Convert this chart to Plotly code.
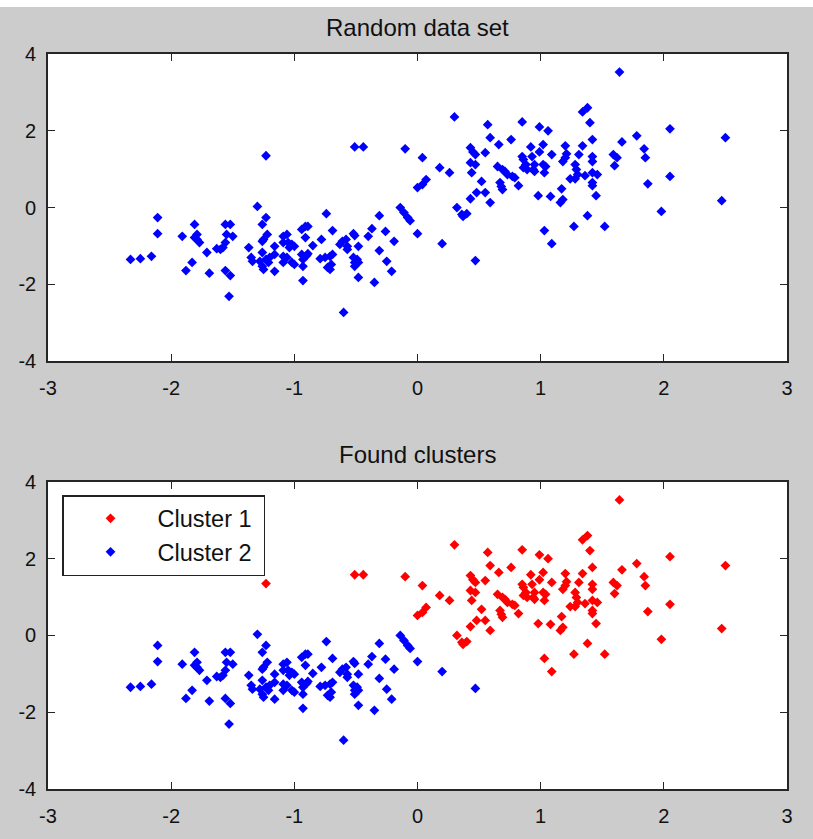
import plotly.graph_objects as go

# ---------------- data ----------------
cluster1_x = [-1.23, -0.51, -0.44, -0.10, 0.04, 0.07, 0.04, 0.00,
              0.30, 0.57, 0.85, 0.99, 1.06, 0.59, 0.66, 0.76, 0.43, 0.45, 0.47, 0.55,
              0.92, 1.02, 0.99, 1.09, 0.85, 0.86, 0.88, 0.86, 0.89, 0.93, 1.02, 1.04,
              1.03, 0.95, 0.94, 0.95, 0.43, 0.47, 0.44, 0.18, 0.26, 0.65, 0.69, 0.71,
              0.73, 0.77, 0.79, 0.52, 0.67, 0.68, 0.69, 0.82, 0.48, 0.55, 0.43, 0.59,
              0.98, 1.08, 0.32, 0.36, 0.40, 0.37, 1.03, 1.09,
              1.20, 1.21, 1.20, 1.18, 1.31, 1.28, 1.29, 1.24, 1.28, 1.30, 1.17, 1.18,
              1.16, 1.27, 1.64, 1.34, 1.38, 1.40, 1.42, 1.34, 1.42, 1.42, 1.36, 1.42,
              1.46, 1.42, 1.42, 1.45, 1.38, 1.52, 1.66, 1.59, 1.62, 1.60, 1.78, 1.84,
              1.85, 1.87, 2.05, 2.05, 1.98, 2.50, 2.47]
cluster1_y = [1.35, 1.58, 1.58, 1.53, 1.30, 0.73, 0.60, 0.52,
              2.36, 2.16, 2.23, 2.10, 2.00, 1.82, 1.64, 1.77, 1.56, 1.45, 1.38, 1.43,
              1.58, 1.64, 1.45, 1.38, 1.33, 1.25, 1.12, 1.04, 0.99, 1.33, 1.12, 1.07,
              0.91, 1.12, 0.99, 0.94, 1.17, 1.12, 0.91, 1.04, 0.91, 1.07, 0.99, 0.94,
              0.86, 0.81, 0.78, 0.68, 0.65, 0.55, 0.47, 0.57, 0.39, 0.39, 0.23, 0.13,
              0.31, 0.29, 0.00, -0.18, -0.16, -0.23, -0.60, -0.94,
              1.61, 1.40, 1.30, 1.20, 1.38, 1.12, 0.99, 0.75, 0.75, 0.86, 0.49, 0.21,
              0.13, -0.49, 3.53, 2.49, 2.60, 2.21, 1.77, 1.61, 1.33, 1.20, 0.83, 0.91,
              0.86, 0.65, 0.57, 0.31, -0.21, -0.49, 1.71, 1.38, 1.30, 1.09, 1.87, 1.53,
              1.30, 0.62, 2.05, 0.81, -0.10, 1.82, 0.18]

cluster2_x = [-2.33, -2.25, -2.16, -2.11, -2.11, -1.91, -1.81, -1.81, -1.79, -1.77,
              -1.79, -1.71, -1.83, -1.88, -1.69, -1.56, -1.52, -1.55, -1.50, -1.56,
              -1.58, -1.63, -1.60, -1.56, -1.52, -1.53, -1.30, -1.23, -1.26, -1.22,
              -1.25, -1.26, -1.37, -1.26, -1.35, -1.34, -1.28, -1.23, -1.21, -1.20,
              -1.26, -1.25, -1.16, -1.16, -1.16,
              -0.74, -0.31, -0.37, -0.26, -0.40, -0.19, -0.69, -0.52, -0.51, -0.61,
              -0.58, -0.63, -0.57, -0.48, -0.78, -0.85, -0.91, -0.94, -0.91, -0.89,
              -1.09, -1.06, -1.09, -1.05, -1.02, -1.00, -1.04, -1.09, -1.06, -1.02,
              -1.00, -1.09, -0.94, -0.90, -0.89, -0.93, -0.93, -0.93, -0.79, -0.75,
              -0.71, -0.69, -0.70, -0.73, -0.71, -0.52, -0.49, -0.51, -0.48, -0.51,
              -0.57, -0.48, -0.31, -0.35, -0.25, -0.21, -0.60,
              -0.14, -0.11, -0.08, -0.06, 0.00, 0.20, 0.47]
cluster2_y = [-1.35, -1.33, -1.27, -0.26, -0.68, -0.75, -0.44, -0.78, -0.83, -0.91,
              -0.70, -1.17, -1.43, -1.64, -1.71, -0.44, -0.44, -0.70, -0.75, -0.91,
              -1.04, -1.07, -1.09, -1.64, -1.77, -2.31, 0.03, -0.26, -0.44, -0.70,
              -0.83, -0.88, -1.04, -1.17, -1.30, -1.40, -1.40, -1.35, -1.43, -1.30,
              -1.53, -1.61, -1.01, -1.22, -1.66,
              -0.16, -0.21, -0.55, -0.62, -0.75, -0.88, -0.60, -0.68, -0.73, -0.88,
              -0.83, -0.96, -1.01, -1.01, -0.83, -0.99, -0.78, -0.57, -0.49, -0.49,
              -0.75, -0.70, -0.91, -0.91, -0.96, -1.01, -1.04, -1.27, -1.30, -1.43,
              -1.48, -1.43, -1.22, -1.25, -1.20, -1.35, -1.53, -1.90, -1.33, -1.30,
              -1.27, -1.22, -1.48, -1.56, -1.61, -1.30, -1.35, -1.43, -1.43, -1.53,
              -1.09, -1.82, -1.12, -1.95, -1.40, -1.66, -2.73,
              0.00, -0.13, -0.26, -0.34, -0.68, -0.94, -1.38]

x_ticks = [-3, -2, -1, 0, 1, 2, 3]
x_tick_labels = ["-3", "-2", "-1", "0", "1", "2", "3"]
y_ticks = [-4, -2, 0, 2, 4]
y_tick_labels = ["-4", "-2", "0", "2", "4"]

titles = ["Random data set", "Found clusters"]
series_names = ["Cluster 1", "Cluster 2"]

all_x = cluster1_x + cluster2_x
all_y = cluster1_y + cluster2_y

# ---------------- figure ----------------
FONT = "Liberation Sans, Arial, sans-serif"
AX = "#262626"
PAD = "\u00a0"  # small right padding inside the legend box
marker_common = dict(symbol="diamond", size=7.5, line=dict(width=0))

fig = go.Figure()
fig.add_trace(go.Scatter(x=all_x, y=all_y, mode="markers",
                         marker=dict(color="#0000ff", **marker_common),
                         xaxis="x", yaxis="y", showlegend=False, hoverinfo="x+y"))
fig.add_trace(go.Scatter(x=cluster1_x, y=cluster1_y, mode="markers", name=series_names[0] + PAD,
                         marker=dict(color="#ff0000", **marker_common),
                         xaxis="x2", yaxis="y2", legendgroup="c1"))
fig.add_trace(go.Scatter(x=cluster2_x, y=cluster2_y, mode="markers", name=series_names[1] + PAD,
                         marker=dict(color="#0000ff", **marker_common),
                         xaxis="x2", yaxis="y2", legendgroup="c2"))

def xaxis(anchor):
    return dict(range=[-3, 3], tickvals=x_ticks, ticktext=x_tick_labels,
                ticks="inside", ticklen=7, tickwidth=1.2, tickcolor=AX,
                showline=True, linecolor=AX, linewidth=1.6, mirror="ticks",
                showgrid=False, zeroline=False, anchor=anchor, domain=[0, 1],
                ticklabelstandoff=8,
                tickfont=dict(family=FONT, size=20, color="#111111"))

def yaxis(anchor, dom):
    return dict(range=[-4, 4], tickvals=y_ticks, ticktext=y_tick_labels,
                ticks="inside", ticklen=7, tickwidth=1.2, tickcolor=AX,
                showline=True, linecolor=AX, linewidth=1.6, mirror="ticks",
                showgrid=False, zeroline=False, anchor=anchor, domain=dom,
                ticklabelstandoff=6,
                tickfont=dict(family=FONT, size=20, color="#111111"))

fig.update_layout(
    width=813, height=839, autosize=False,
    margin=dict(l=48, r=26, t=54, b=48, pad=0),
    paper_bgcolor="#cccccc", plot_bgcolor="#ffffff",
    xaxis=xaxis("y"), yaxis=yaxis("x", [0.5821, 1.0]),
    xaxis2=xaxis("y2"), yaxis2=yaxis("x2", [0.0, 0.4179]),
    showlegend=True,
    legend=dict(x=0.019, y=0.400, xanchor="left", yanchor="top",
                bgcolor="#ffffff", bordercolor="#222222", borderwidth=1.5,
                font=dict(family=FONT, size=23.5, color="#111111"),
                itemwidth=84, traceorder="grouped", tracegroupgap=0),
    annotations=[
        dict(text=titles[0], xref="paper", yref="paper", x=0.5, y=1.0366,
             xanchor="center", yanchor="middle", showarrow=False,
             font=dict(family=FONT, size=24, color="#111111")),
        dict(text=titles[1], xref="paper", yref="paper", x=0.5, y=0.4545,
             xanchor="center", yanchor="middle", showarrow=False,
             font=dict(family=FONT, size=24, color="#111111")),
    ],
    shapes=[dict(type="rect", xref="paper", yref="paper", x0=-0.1, x1=1.1,
                 y0=1.0638, y1=1.08, fillcolor="#ffffff", line=dict(width=0), layer="above")],
)

fig.write_html("out.html", config={"displayModeBar": False},
               post_script="document.body.style.margin='0';document.body.style.overflow='hidden';")
